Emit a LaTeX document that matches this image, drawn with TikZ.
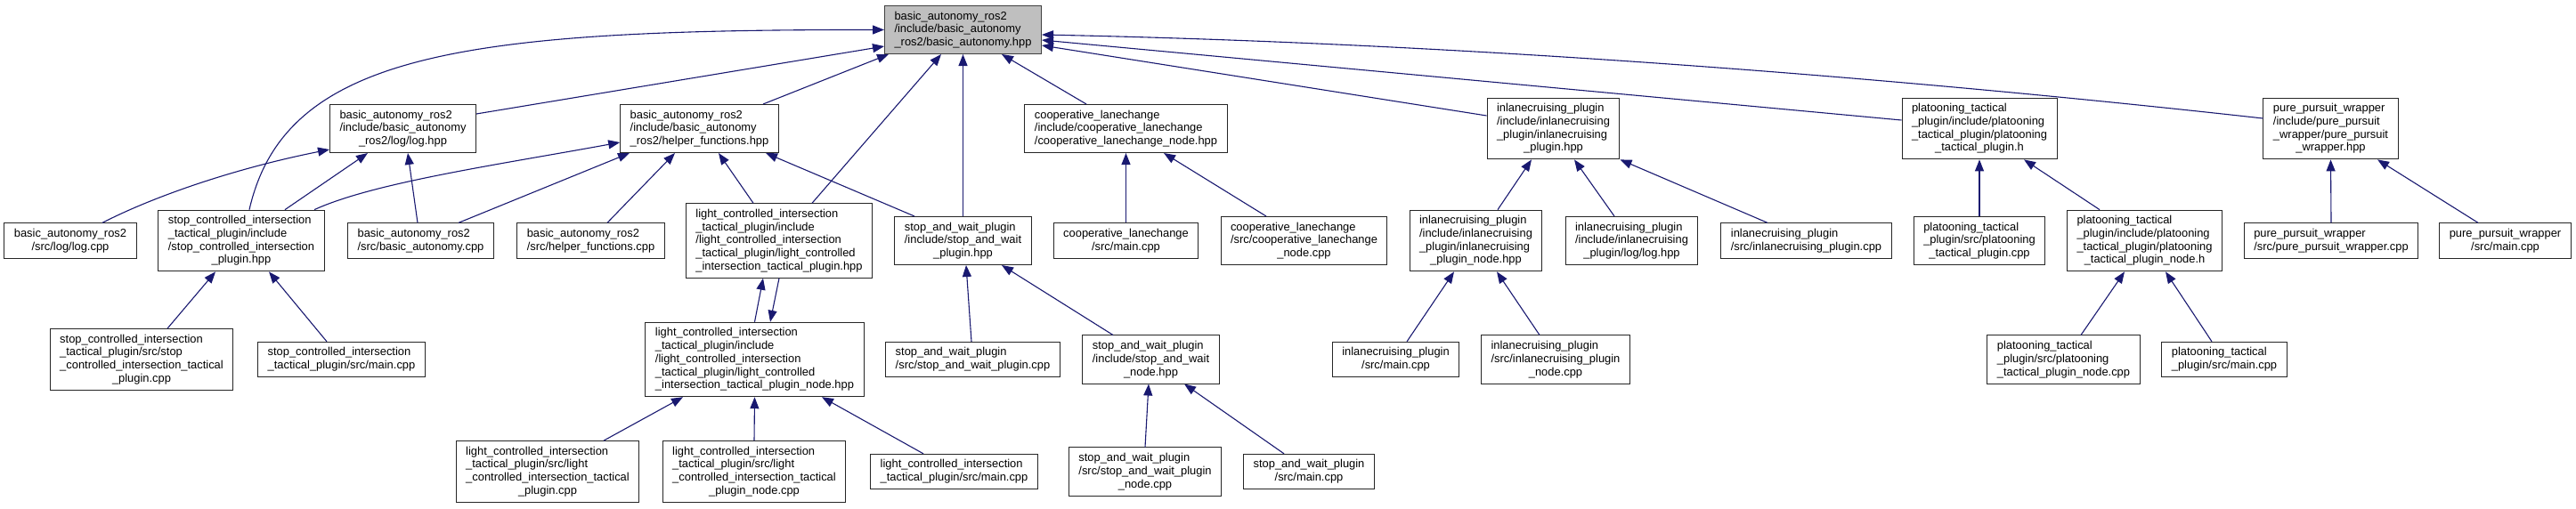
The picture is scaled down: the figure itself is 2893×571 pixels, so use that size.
\documentclass[tikz,border=0pt]{standalone}
\usepackage{fontspec}
\setsansfont{Liberation Sans}
\usepackage{tikz}
\usetikzlibrary{arrows.meta, positioning, calc}
\usepackage{xcolor}
\definecolor{edgeblue}{RGB}{25, 25, 112}
\definecolor{rootgray}{RGB}{191, 191, 191}
\newcommand{\ctr}[1]{\hfill#1\hfill\hbox{}}

\begin{document}
\begin{tikzpicture}[x=1pt, y=-1pt,
  fbox/.style={rectangle, draw=black!85, fill=white, line width=1pt, align=left,
               inner xsep=11pt, inner ysep=6.3pt, font=\fontsize{12.9}{14.7}\sffamily},
  rootbox/.style={fbox, fill=rootgray, draw=black!75},
  inc/.style={-{Triangle[length=13pt, width=10pt]}, line width=1.1pt, edgeblue}
]
\useasboundingbox (0,0) rectangle (2893,571);

\node[rootbox] (root) at (1081.5,33.5) {basic\_autonomy\_ros2\\/include/basic\_autonomy\\\ctr{\_ros2/basic\_autonomy.hpp}};

\node[fbox] (logh)   at (452.5,144.5)  {basic\_autonomy\_ros2\\/include/basic\_autonomy\\\ctr{\_ros2/log/log.hpp}};
\node[fbox] (helph)  at (785.5,144.5)  {basic\_autonomy\_ros2\\/include/basic\_autonomy\\\ctr{\_ros2/helper\_functions.hpp}};
\node[fbox] (coopnh) at (1264.5,144.5) {cooperative\_lanechange\\/include/cooperative\_lanechange\\\ctr{/cooperative\_lanechange\_node.hpp}};
\node[fbox] (ilch)   at (1744.5,144.5) {inlanecruising\_plugin\\/include/inlanecruising\\\_plugin/inlanecruising\\\ctr{\_plugin.hpp}};
\node[fbox] (plath)  at (2223,144.5)   {platooning\_tactical\\\_plugin/include/platooning\\\_tactical\_plugin/platooning\\\ctr{\_tactical\_plugin.h}};
\node[fbox] (pph)    at (2617.5,144.5) {pure\_pursuit\_wrapper\\/include/pure\_pursuit\\\_wrapper/pure\_pursuit\\\ctr{\_wrapper.hpp}};

\node[fbox] (logcpp)   at (79,270.5)     {basic\_autonomy\_ros2\\\ctr{/src/log/log.cpp}};
\node[fbox] (scih)     at (271,270.5)    {stop\_controlled\_intersection\\\_tactical\_plugin/include\\/stop\_controlled\_intersection\\\ctr{\_plugin.hpp}};
\node[fbox] (bacpp)    at (472.5,270.5)  {basic\_autonomy\_ros2\\\ctr{/src/basic\_autonomy.cpp}};
\node[fbox] (helpcpp)  at (663.5,270.5)  {basic\_autonomy\_ros2\\\ctr{/src/helper\_functions.cpp}};
\node[fbox] (lcih)     at (875,270.5)    {light\_controlled\_intersection\\\_tactical\_plugin/include\\/light\_controlled\_intersection\\\_tactical\_plugin/light\_controlled\\\ctr{\_intersection\_tactical\_plugin.hpp}};
\node[fbox] (swh)      at (1081.5,270.5) {stop\_and\_wait\_plugin\\/include/stop\_and\_wait\\\ctr{\_plugin.hpp}};
\node[fbox] (coopmain) at (1264.5,270.5) {cooperative\_lanechange\\\ctr{/src/main.cpp}};
\node[fbox] (coopncpp) at (1464.5,270.5) {cooperative\_lanechange\\/src/cooperative\_lanechange\\\ctr{\_node.cpp}};
\node[fbox] (ilcnh)    at (1657.5,270.5) {inlanecruising\_plugin\\/include/inlanecruising\\\_plugin/inlanecruising\\\ctr{\_plugin\_node.hpp}};
\node[fbox] (ilclogh)  at (1832.5,270.5) {inlanecruising\_plugin\\/include/inlanecruising\\\ctr{\_plugin/log/log.hpp}};
\node[fbox] (ilccpp)   at (2028.5,270.5) {inlanecruising\_plugin\\\ctr{/src/inlanecruising\_plugin.cpp}};
\node[fbox] (platcpp)  at (2223,270.5)   {platooning\_tactical\\\_plugin/src/platooning\\\ctr{\_tactical\_plugin.cpp}};
\node[fbox] (platnh)   at (2408.5,270.5) {platooning\_tactical\\\_plugin/include/platooning\\\_tactical\_plugin/platooning\\\ctr{\_tactical\_plugin\_node.h}};
\node[fbox] (ppcpp)    at (2618,270.5)   {pure\_pursuit\_wrapper\\\ctr{/src/pure\_pursuit\_wrapper.cpp}};
\node[fbox] (ppmain)   at (2813.5,270.5) {pure\_pursuit\_wrapper\\\ctr{/src/main.cpp}};

\node[fbox] (scicpp)   at (159,404)    {stop\_controlled\_intersection\\\_tactical\_plugin/src/stop\\\_controlled\_intersection\_tactical\\\ctr{\_plugin.cpp}};
\node[fbox] (scimain)  at (383.5,404)  {stop\_controlled\_intersection\\\ctr{\_tactical\_plugin/src/main.cpp}};
\node[fbox] (lcinh)    at (847.5,404)  {light\_controlled\_intersection\\\_tactical\_plugin/include\\/light\_controlled\_intersection\\\_tactical\_plugin/light\_controlled\\\ctr{\_intersection\_tactical\_plugin\_node.hpp}};
\node[fbox] (swcpp)    at (1092.5,404) {stop\_and\_wait\_plugin\\\ctr{/src/stop\_and\_wait\_plugin.cpp}};
\node[fbox] (swnh)     at (1292.5,404) {stop\_and\_wait\_plugin\\/include/stop\_and\_wait\\\ctr{\_node.hpp}};
\node[fbox] (ilcmain)  at (1567.5,404) {inlanecruising\_plugin\\\ctr{/src/main.cpp}};
\node[fbox] (ilcncpp)  at (1747,404)   {inlanecruising\_plugin\\/src/inlanecruising\_plugin\\\ctr{\_node.cpp}};
\node[fbox] (platncpp) at (2317.5,404) {platooning\_tactical\\\_plugin/src/platooning\\\ctr{\_tactical\_plugin\_node.cpp}};
\node[fbox] (platmain) at (2498,404)   {platooning\_tactical\\\ctr{\_plugin/src/main.cpp}};

\node[fbox] (lcicpp)  at (615,530)    {light\_controlled\_intersection\\\_tactical\_plugin/src/light\\\_controlled\_intersection\_tactical\\\ctr{\_plugin.cpp}};
\node[fbox] (lcincpp) at (847,530)    {light\_controlled\_intersection\\\_tactical\_plugin/src/light\\\_controlled\_intersection\_tactical\\\ctr{\_plugin\_node.cpp}};
\node[fbox] (lcimain) at (1071.5,530) {light\_controlled\_intersection\\\ctr{\_tactical\_plugin/src/main.cpp}};
\node[fbox] (swncpp)  at (1286,530)   {stop\_and\_wait\_plugin\\/src/stop\_and\_wait\_plugin\\\ctr{\_node.cpp}};
\node[fbox] (swmain)  at (1470,530)   {stop\_and\_wait\_plugin\\\ctr{/src/main.cpp}};

\draw[inc] ([xshift=9pt]scih.north) .. controls (320,60) and (520,33) .. (root.west);
\draw[inc] ([yshift=16.5pt]logh.east) -- ([yshift=-18.5pt]root.west);
\draw[inc] ([xshift=71.5pt]helph.north) -- ([xshift=-83.5pt]root.south);
\draw[inc] ([xshift=37pt]lcih.north) -- ([xshift=-24.5pt]root.south);
\draw[inc] (swh.north) -- (root.south);
\draw[inc] ([xshift=-44.5pt]coopnh.north) -- ([xshift=43.5pt]root.south);
\draw[inc] ([yshift=14.5pt]ilch.west) -- ([yshift=-17.5pt]root.east);
\draw[inc] ([yshift=9.5pt]plath.west) -- ([yshift=-11.5pt]root.east);
\draw[inc] ([yshift=11.5pt]pph.west) .. controls (2200,95) and (1700,50) .. ([yshift=-5.5pt]root.east);

\draw[inc] ([xshift=36pt]logcpp.north) .. controls (170,222) and (260,190) .. ([yshift=-23.5pt]logh.west);
\draw[inc] ([xshift=49pt]scih.north) -- ([xshift=-39.5pt]logh.south);
\draw[inc] ([xshift=-3.5pt]bacpp.north) -- ([xshift=5.5pt]logh.south);

\draw[inc] ([xshift=82pt]scih.north) .. controls (420,205) and (560,185) .. ([yshift=-15.5pt]helph.west);
\draw[inc] ([xshift=42.5pt]bacpp.north) -- ([xshift=-78.5pt]helph.south);
\draw[inc] ([xshift=18.5pt]helpcpp.north) -- ([xshift=-27.5pt]helph.south);
\draw[inc] ([xshift=-29pt]lcih.north) -- ([xshift=21.5pt]helph.south);
\draw[inc] ([xshift=-54.5pt]swh.north) -- ([xshift=74.5pt]helph.south);

\draw[inc] ([xshift=29pt]scicpp.north) -- ([xshift=-29pt]scih.south);
\draw[inc] ([xshift=-16.5pt]scimain.north) -- ([xshift=31pt]scih.south);

\draw[inc] (lcinh.north) -- ([xshift=-18pt]lcih.south);
\draw[inc] (lcih.south) -- ([xshift=17.5pt]lcinh.north);
\draw[inc] ([xshift=63pt]lcicpp.north) -- ([xshift=-80.5pt]lcinh.south);
\draw[inc] (lcincpp.north) -- (lcinh.south);
\draw[inc] ([xshift=-34.5pt]lcimain.north) -- ([xshift=75.5pt]lcinh.south);

\draw[inc] ([xshift=-1.5pt]swcpp.north) -- ([xshift=3.5pt]swh.south);
\draw[inc] ([xshift=-42.5pt]swnh.north) -- ([xshift=43.5pt]swh.south);
\draw[inc] (swncpp.north) -- ([xshift=-2.5pt]swnh.south);
\draw[inc] ([xshift=-28pt]swmain.north) -- ([xshift=37.5pt]swnh.south);

\draw[inc] (coopmain.north) -- (coopnh.south);
\draw[inc] ([xshift=-42.5pt]coopncpp.north) -- ([xshift=42.5pt]coopnh.south);

\draw[inc] ([xshift=24.5pt]ilcnh.north) -- ([xshift=-24.5pt]ilch.south);
\draw[inc] ([xshift=-19.5pt]ilclogh.north) -- ([xshift=23.5pt]ilch.south);
\draw[inc] ([xshift=-43.5pt]ilccpp.north) -- (ilch.south east);
\draw[inc] ([xshift=12.5pt]ilcmain.north) -- ([xshift=-24.5pt]ilcnh.south);
\draw[inc] ([xshift=-18pt]ilcncpp.north) -- ([xshift=23.5pt]ilcnh.south);

\draw[inc] (platcpp.north) -- (plath.south);
\draw[inc] ([xshift=-50.5pt]platnh.north) -- ([xshift=50pt]plath.south);
\draw[inc] ([xshift=19.5pt]platncpp.north) -- ([xshift=-22.5pt]platnh.south);
\draw[inc] ([xshift=-14pt]platmain.north) -- ([xshift=23.5pt]platnh.south);

\draw[inc] (ppcpp.north) -- (pph.south);
\draw[inc] ([xshift=-30.5pt]ppmain.north) -- ([xshift=52.5pt]pph.south);
\end{tikzpicture}
\end{document}
